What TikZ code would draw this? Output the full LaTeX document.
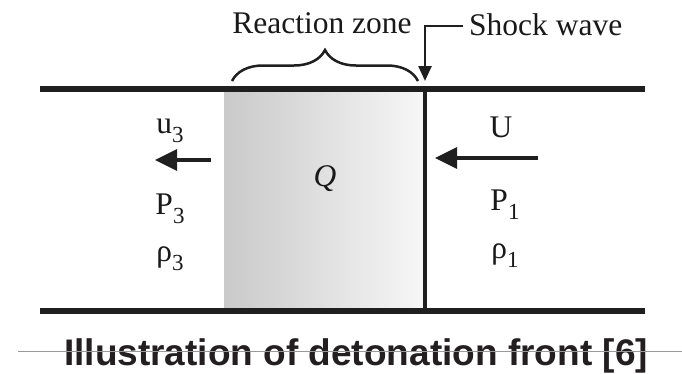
\documentclass[tikz,border=0pt]{standalone}
\usepackage{fontspec}
\setmainfont{Liberation Serif}
\newfontfamily\capfont{Liberation Sans}
\usetikzlibrary{arrows.meta,decorations.pathreplacing}
\newcommand\lowsub[1]{\raisebox{-0.3em}{\fontsize{23}{23}\selectfont #1}}
\begin{document}
\begin{tikzpicture}[x=1pt,y=-1pt,
  wall/.style={line width=5.5pt,draw=black!88},
  lbl/.style={inner sep=0pt,anchor=base,font=\fontsize{31.5}{31.5}\selectfont,text=black!90},
  flow/.style={line width=3.5pt,draw=black!88,-{Triangle[length=22pt,width=21pt]}},
  capt/.style={inner sep=0pt,anchor=base,font=\capfont\bfseries\fontsize{37}{37}\selectfont,text={rgb,255:red,35;green,31;blue,32}}]
\useasboundingbox (0,0) rectangle (682,373);
% shaded reaction zone
\shade[left color=gray!42,right color=gray!6] (224,91) rectangle (425,309);
% walls and shock
\coordinate (tl) at (40,89);
\coordinate (tr) at (645,89);
\coordinate (bl) at (40,311);
\coordinate (br) at (645,311);
\coordinate (st) at (425,89);
\coordinate (sb) at (425,311);
\draw[wall] (tl) -- (tr);
\draw[wall] (bl) -- (br);
\draw[line width=3.5pt,draw=black!88] (st) -- (sb);
% labels above
\node[lbl] (rz) at (322,33) {Reaction zone};
\node[lbl,anchor=base west] (sw) at (469,35) {Shock wave};
\coordinate (bra) at (232,81);
\coordinate (brb) at (418,81);
\draw[line width=2.5pt,draw=black!88,decorate,decoration={brace,amplitude=31pt}] (bra) -- (brb);
\coordinate (swl) at (463,26);
\coordinate (swtip) at (425,81);
\draw[line width=2.5pt,draw=black!88,-{Triangle[length=15pt,width=13pt]}] (swl) -| (swtip);
% left region
\node[lbl] (u3) at (170,133) {u\lowsub{3}};
\node[lbl] (p3) at (170,214) {P\lowsub{3}};
\node[lbl] (r3) at (170,261) {ρ\lowsub{3}};
\coordinate (la) at (211,160);
\coordinate (lb) at (155,160);
\draw[flow] (la) -- (lb);
% reaction zone
\node[lbl] (q) at (325,186) {\itshape Q};
% right region
\node[lbl] (uu) at (501,137) {U};
\node[lbl] (p1) at (505,210) {P\lowsub{1}};
\node[lbl] (r1) at (505,258) {ρ\lowsub{1}};
\coordinate (ra) at (538,158);
\coordinate (rb) at (435,158);
\draw[flow] (ra) -- (rb);
% caption
\node[capt] (cap) at (356,365) {Illustration of detonation front [6]};
\coordinate (gl) at (18,351);
\coordinate (gr) at (682,351);
\draw[gray!80,line width=1pt] (gl) -- (gr);
\end{tikzpicture}
\end{document}
